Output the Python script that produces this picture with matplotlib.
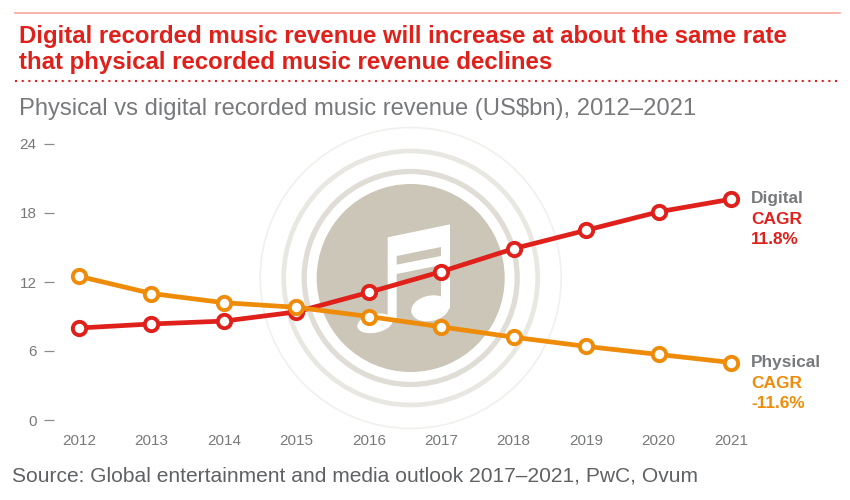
import matplotlib
matplotlib.use("Agg")
import matplotlib.pyplot as plt
from matplotlib.patches import Circle, Ellipse, Polygon

years = [2012, 2013, 2014, 2015, 2016, 2017, 2018, 2019, 2020, 2021]
digital = [8.0, 8.35, 8.6, 9.4, 11.1, 12.9, 14.9, 16.5, 18.1, 19.2]
physical = [12.5, 11.0, 10.2, 9.8, 9.0, 8.1, 7.2, 6.4, 5.7, 5.0]
y_ticks = [0, 6, 12, 18, 24]

RED, ORANGE, GREY = "#E0201B", "#EE8C0A", "#77797C"
DISC = "#CBC6B8"
W, H = 850, 500

plt.rcParams["font.family"] = ["Liberation Sans", "DejaVu Sans"]

fig = plt.figure(figsize=(W / 100, H / 100), dpi=100, facecolor="white")

# pixel-space layer for rules, headings and the music badge
bg = fig.add_axes([0, 0, 1, 1], zorder=0)
bg.set_xlim(0, W)
bg.set_ylim(H, 0)
bg.axis("off")


def z(px, py):
    # badge outline was measured on a 3x crop starting at (240, 120)
    return 240 + px / 3, 120 + py / 3


cx, cy = 410.7, 278
bg.add_patch(Circle((cx, cy), 150.5, fc="none", ec="#F1F0ED", lw=1.2))
bg.add_patch(Circle((cx, cy), 127, fc="none", ec="#E9E7E1", lw=3.4))
bg.add_patch(Circle((cx, cy), 106.5, fc="none", ec="#DFDDD5", lw=3.8))
bg.add_patch(Circle((cx, cy), 94, fc=DISC, ec="none"))

note = [(443, 352), (630, 313), (630, 565), (603, 565), (603, 435), (470, 462), (470, 605), (443, 605)]
bg.add_patch(Polygon([z(*p) for p in note], fc="white", ec="none"))
bg.add_patch(Polygon([z(*p) for p in [(470, 408), (603, 381), (603, 408), (470, 434)]], fc=DISC, ec="none"))
bg.add_patch(Ellipse(z(571, 565), 116 / 3, 76 / 3, angle=-12, fc="white", ec="none"))
bg.add_patch(Ellipse(z(405, 610), 108 / 3, 56 / 3, angle=-12, fc="white", ec="none"))

bg.plot([15, 840], [13, 13], color="#F7A8A0", lw=1.2)
bg.plot([15, 840], [81, 81], color=RED, lw=1.5, ls=(0, (1, 2.2)))
bg.text(19, 36, "Digital recorded music revenue will increase at about the same rate",
        color=RED, fontsize=17.3, fontweight="bold", va="center")
bg.text(19, 63, "that physical recorded music revenue declines",
        color=RED, fontsize=17.3, fontweight="bold", va="center")
bg.text(19, 109.5, "Physical vs digital recorded music revenue (US$bn), 2012\u20132021",
        color=GREY, fontsize=17.15, va="center")
bg.text(12, 476, "Source: Global entertainment and media outlook 2017\u20132021, PwC, Ovum",
        color="#5F6164", fontsize=15.1, va="center")

for y0, head, pct, col in [(199, "Digital", "11.8%", RED), (363, "Physical", "-11.6%", ORANGE)]:
    bg.text(751, y0, head, color=GREY, fontsize=12.4, fontweight="bold", va="center")
    bg.text(751, y0 + 20, "CAGR", color=col, fontsize=12.4, fontweight="bold", va="center")
    bg.text(751, y0 + 40, pct, color=col, fontsize=12.4, fontweight="bold", va="center")

# data layer, placed so that the years and the y range land on the original pixels
ax = fig.add_axes([79 / W, (H - 420) / H, 652 / W, 276 / H], zorder=1)
ax.patch.set_alpha(0)
for name, vals, col in [("Digital", digital, RED), ("Physical", physical, ORANGE)]:
    ax.plot(years, vals, color=col, lw=3.4, marker="o", ms=9.6, mfc="white", mec=col,
            mew=2.8, clip_on=False, label=name)
ax.set_xlim(2012, 2021)
ax.set_ylim(0, 24)
ax.set_xticks(years)
ax.set_yticks(y_ticks)
for sp in ax.spines.values():
    sp.set_visible(False)
ax.spines["left"].set_position(("outward", 18))
ax.tick_params(axis="y", length=7.5, width=0.9, color="#8A8C8E", labelcolor=GREY, labelsize=11, pad=5)
ax.tick_params(axis="x", length=0, labelcolor=GREY, labelsize=11, pad=10)

fig.savefig("out.png", dpi=100, facecolor="white")
